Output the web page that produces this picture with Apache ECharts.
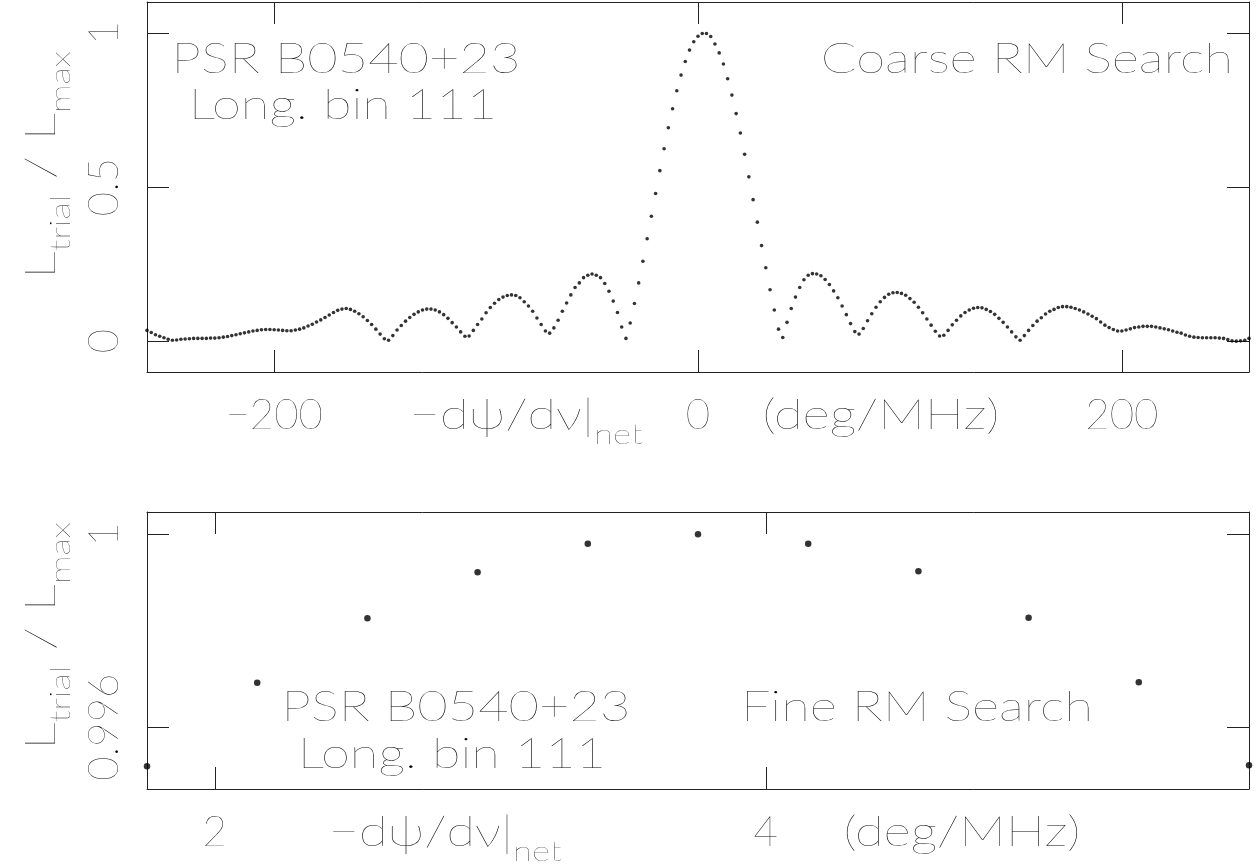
<!DOCTYPE html>
<html>
<head>
<meta charset="utf-8">
<script src="https://cdn.jsdelivr.net/npm/echarts@6/dist/echarts.min.js"></script>
<style>
  html, body { margin: 0; padding: 0; background: #fff; }
  #chart { width: 1258px; height: 867px; }
</style>
</head>
<body>
<div id="chart"></div>
<script>
// Coarse rotation-measure search: trial gradients from -260 to 260 deg/MHz, step 2
const coarseStart = -260;
const coarseStep = 2;
const coarseL = [
  0.035, 0.028, 0.021, 0.016, 0.011, 0.006, 0.003, 0.004, 0.006, 0.007,
  0.008, 0.009, 0.009, 0.009, 0.009, 0.010, 0.010, 0.011, 0.013, 0.015,
  0.018, 0.021, 0.024, 0.027, 0.030, 0.033, 0.035, 0.037, 0.038, 0.038,
  0.037, 0.036, 0.035, 0.034, 0.034, 0.036, 0.039, 0.043, 0.049, 0.055,
  0.062, 0.069, 0.077, 0.085, 0.093, 0.100, 0.104, 0.106, 0.103, 0.097,
  0.089, 0.079, 0.067, 0.054, 0.039, 0.023, 0.008, 0.003, 0.018, 0.036,
  0.051, 0.065, 0.077, 0.087, 0.095, 0.101, 0.104, 0.104, 0.101, 0.095,
  0.086, 0.074, 0.060, 0.046, 0.030, 0.016, 0.017, 0.035, 0.054, 0.072,
  0.092, 0.109, 0.123, 0.135, 0.143, 0.148, 0.150, 0.148, 0.141, 0.128,
  0.114, 0.097, 0.075, 0.054, 0.033, 0.026, 0.043, 0.068, 0.097, 0.124,
  0.150, 0.174, 0.189, 0.206, 0.214, 0.218, 0.214, 0.206, 0.187, 0.162,
  0.130, 0.093, 0.046, 0.009, 0.059, 0.122, 0.189, 0.259, 0.332, 0.405,
  0.479, 0.553, 0.624, 0.692, 0.754, 0.812, 0.863, 0.907, 0.944, 0.971,
  0.989, 0.998, 0.998, 0.988, 0.964, 0.935, 0.899, 0.851, 0.798, 0.738,
  0.675, 0.606, 0.533, 0.459, 0.386, 0.310, 0.238, 0.167, 0.101, 0.039,
  0.012, 0.061, 0.106, 0.143, 0.174, 0.199, 0.214, 0.219, 0.218, 0.212,
  0.200, 0.184, 0.163, 0.141, 0.114, 0.086, 0.057, 0.031, 0.023, 0.041,
  0.066, 0.089, 0.110, 0.128, 0.142, 0.152, 0.157, 0.158, 0.155, 0.149,
  0.138, 0.126, 0.110, 0.092, 0.072, 0.052, 0.032, 0.017, 0.019, 0.035,
  0.053, 0.068, 0.082, 0.093, 0.101, 0.107, 0.109, 0.108, 0.103, 0.096,
  0.087, 0.074, 0.061, 0.046, 0.030, 0.014, 0.003, 0.018, 0.035, 0.051,
  0.065, 0.076, 0.088, 0.097, 0.103, 0.109, 0.112, 0.112, 0.110, 0.106,
  0.101, 0.095, 0.088, 0.081, 0.073, 0.062, 0.052, 0.044, 0.038, 0.033,
  0.033, 0.036, 0.040, 0.044, 0.046, 0.048, 0.048, 0.048, 0.046, 0.043,
  0.040, 0.037, 0.033, 0.029, 0.026, 0.020, 0.016, 0.013, 0.012, 0.011,
  0.011, 0.011, 0.011, 0.010, 0.009, 0.005, 0.001, 0.000, 0.001, 0.003,
  0.009
];

// Fine search around the coarse maximum
const fineRM = [1.754, 2.154, 2.554, 2.954, 3.354, 3.754, 4.154, 4.554, 4.954, 5.354, 5.754];
const fineL  = [0.99519, 0.99692, 0.99826, 0.99921, 0.99980, 1.00000, 0.99980, 0.99923, 0.99827, 0.99693, 0.99521];

// Tick positions
const coarseXTicks = [-200, 0, 200];
const coarseYTicks = [0, 0.5, 1];
const fineXTicks = [2, 4];
const fineYTicks = [0.996, 1];

const coarseRM = coarseL.map((_, i) => coarseStart + i * coarseStep);

const INK = '#000';
const FRAME = '#222';
const FONT = 'Lato, "DejaVu Sans", sans-serif';
const FW = 200;
const FS = 42;
const WIDE = 1.25;   // stretch of the annotation lettering

const minusSign = v => String(v).replace('-', '\u2212');

function makeAxis(kind, grid, pos, min, max, ticks, showLabel, fmt) {
  const ax = {
    type: 'value',
    gridIndex: grid,
    position: pos,
    min: min,
    max: max,
    axisLine: { show: true, onZero: false, lineStyle: { color: FRAME, width: 1 } },
    axisTick: { show: true, inside: true, length: 22, customValues: ticks,
                lineStyle: { color: FRAME, width: 1 } },
    axisLabel: { show: showLabel, customValues: ticks, margin: 22,
                 fontFamily: FONT, fontWeight: FW, fontSize: FS, color: INK },
    splitLine: { show: false }
  };
  if (fmt) ax.axisLabel.formatter = fmt;
  if (kind === 'y') ax.axisLabel.rotate = 90;
  return ax;
}

const richMain = { fontFamily: FONT, fontWeight: FW, fontSize: FS, lineHeight: FS,
                   verticalAlign: 'top', fill: INK };
const richSub  = { fontFamily: FONT, fontWeight: FW, fontSize: 28, lineHeight: 28,
                   padding: [27, 0, 0, 0], verticalAlign: 'top', fill: INK };
const RICH = { b: richMain, s: richSub };

const yTitle = '{b|L}{s|trial}{b| / L}{s|max}';
const xTitle = '{b|\u2212d\u03c8/d\u03bd|}{s|net}';
const xUnit  = '{b|(deg/MHz)}';

function label(text, x, y, align) {
  return {
    type: 'text', x: x, y: y, scaleX: WIDE, silent: true,
    style: { text: text, align: align, verticalAlign: 'middle',
             fontFamily: FONT, fontWeight: FW, fontSize: FS, fill: INK }
  };
}
function richLabel(text, x, y, align, vAlign, rot, stretch) {
  return {
    type: 'text', x: x, y: y, rotation: rot || 0, scaleX: stretch || WIDE, silent: true,
    style: { text: text, align: align, verticalAlign: vAlign, rich: RICH,
             fontFamily: FONT, fontWeight: FW, fontSize: FS, fill: INK }
  };
}

const chart = echarts.init(document.getElementById('chart'), null, { renderer: 'canvas' });

chart.setOption({
  backgroundColor: '#fff',
  animation: false,
  grid: [
    { left: 147, top: 2, width: 1102, height: 370, outerBoundsMode: 'none' },
    { left: 147, top: 512, width: 1102, height: 277, outerBoundsMode: 'none' }
  ],
  xAxis: [
    makeAxis('x', 0, 'bottom', -260, 260, coarseXTicks, true, minusSign),
    makeAxis('x', 0, 'top', -260, 260, coarseXTicks, false),
    makeAxis('x', 1, 'bottom', 1.754, 5.754, fineXTicks, true),
    makeAxis('x', 1, 'top', 1.754, 5.754, fineXTicks, false)
  ],
  yAxis: [
    makeAxis('y', 0, 'left', -0.1, 1.1, coarseYTicks, true),
    makeAxis('y', 0, 'right', -0.1, 1.1, coarseYTicks, false),
    makeAxis('y', 1, 'left', 0.99472, 1.00046, fineYTicks, true),
    makeAxis('y', 1, 'right', 0.99472, 1.00046, fineYTicks, false)
  ],
  series: [
    {
      type: 'scatter', xAxisIndex: 0, yAxisIndex: 0, clip: false, silent: true,
      symbol: 'circle', symbolSize: 3.6, itemStyle: { color: '#000' },
      data: coarseRM.map((x, i) => [x, coarseL[i]])
    },
    {
      type: 'scatter', xAxisIndex: 2, yAxisIndex: 2, clip: false, silent: true,
      symbol: 'circle', symbolSize: 6.5, itemStyle: { color: '#000' },
      data: fineRM.map((x, i) => [x, fineL[i]])
    }
  ],
  graphic: [
    // upper panel annotations
    label('PSR B0540+23', 346, 59, 'center'),
    label('Long. bin 111', 343, 105, 'center'),
    label('Coarse RM Search', 1233, 59, 'right'),
    richLabel(yTitle, 41, 165, 'center', 'middle', Math.PI / 2, 1.3),
    richLabel(xTitle, 526, 394, 'center', 'top'),
    richLabel(xUnit, 881, 394, 'center', 'top'),
    // lower panel annotations
    label('PSR B0540+23', 456, 707, 'center'),
    label('Long. bin 111', 452, 754, 'center'),
    label('Fine RM Search', 917, 707, 'center'),
    richLabel(yTitle, 41, 636, 'center', 'middle', Math.PI / 2, 1.3),
    richLabel(xTitle, 445, 811, 'center', 'top'),
    richLabel(xUnit, 962, 811, 'center', 'top')
  ]
});
</script>
</body>
</html>
